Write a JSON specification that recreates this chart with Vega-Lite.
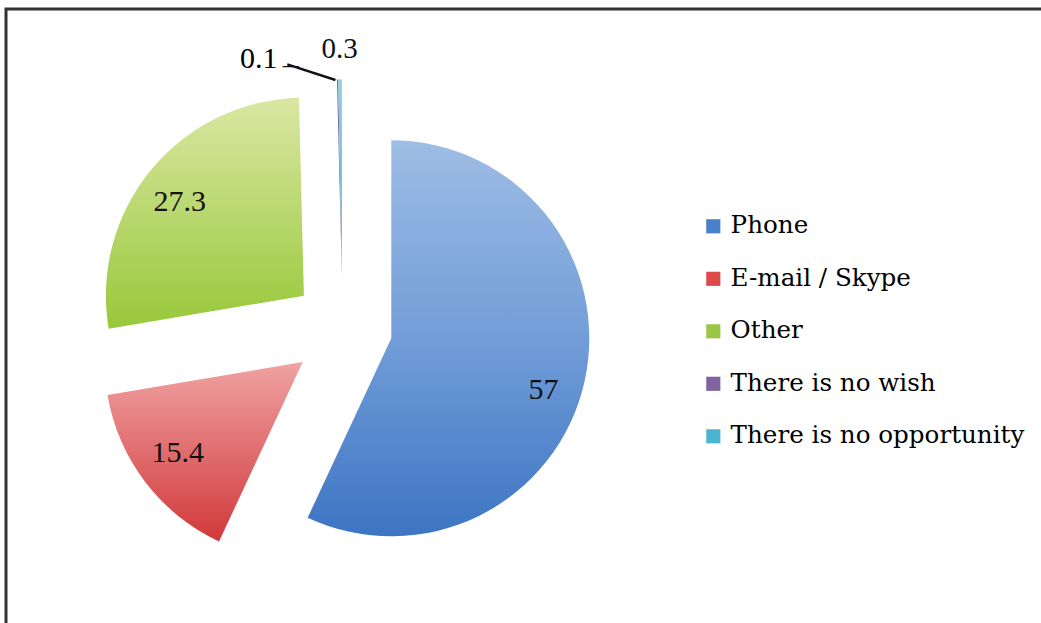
{
  "$schema": "https://vega.github.io/schema/vega-lite/v6.json",
  "autosize": "none",
  "width": 1045,
  "height": 620,
  "padding": {"left": 6, "top": 9, "right": -10, "bottom": -6},
  "background": "white",
  "config": {"view": {"stroke": "#333333", "strokeWidth": 3}},
  "data": {
    "values": [
      {"category": "Phone", "value": 57},
      {"category": "E-mail / Skype", "value": 15.4},
      {"category": "Other", "value": 27.3},
      {"category": "There is no wish", "value": 0.1},
      {"category": "There is no opportunity", "value": 0.3}
    ]
  },
  "transform": [{"window": [{"op": "row_number", "as": "idx"}]}],
  "layer": [
    {
      "mark": {"type": "point", "opacity": 0},
      "encoding": {
        "x": {"field": "value", "type": "quantitative", "axis": null},
        "y": {"field": "value", "type": "quantitative", "axis": null}
      }
    },
    {
      "layer": [
        {
          "mark": {"type": "arc", "radius": 0},
          "encoding": {
            "color": {
              "field": "category",
              "type": "nominal",
              "scale": {
                "domain": ["Phone", "E-mail / Skype", "Other", "There is no wish", "There is no opportunity"],
                "range": ["#4A7FC9", "#DC4A4D", "#9CC646", "#8064A2", "#4BB4CE"]
              },
              "legend": {
                "title": null,
                "orient": "none",
                "legendX": 695,
                "legendY": 205,
                "symbolType": "square",
                "symbolSize": 200,
                "symbolStrokeWidth": 0,
                "labelFont": "DejaVu Serif",
                "labelFontSize": 24.6,
                "labelColor": "#000000",
                "labelLimit": 400,
                "labelOffset": 5,
                "rowPadding": 27.5,
                "padding": 0,
                "offset": 0
              }
            }
          }
        },
        {
          "mark": {
            "type": "arc", "radius": 198, "xOffset": -137.2, "yOffset": 19.3,
            "fill": {"gradient": "linear", "x1": 0, "y1": 0, "x2": 0, "y2": 1,
              "stops": [{"offset": 0, "color": "#9EBDE5"}, {"offset": 0.5, "color": "#729DD8"}, {"offset": 1, "color": "#3D75C3"}]}
          },
          "encoding": {"opacity": {"condition": {"test": "datum.category === 'Phone'", "value": 1}, "value": 0}}
        },
        {
          "mark": {
            "type": "arc", "radius": 198, "xOffset": -225.8, "yOffset": 43,
            "fill": {"gradient": "linear", "x1": 0, "y1": 0, "x2": 0, "y2": 1,
              "stops": [{"offset": 0, "color": "#F0A2A2"}, {"offset": 1, "color": "#D1393B"}]}
          },
          "encoding": {"opacity": {"condition": {"test": "datum.category === 'E-mail / Skype'", "value": 1}, "value": 0}}
        },
        {
          "mark": {
            "type": "arc", "radius": 198, "xOffset": -224.6, "yOffset": -23.3,
            "fill": {"gradient": "linear", "x1": 0, "y1": 0, "x2": 0, "y2": 1,
              "stops": [{"offset": 0, "color": "#DAE7A3"}, {"offset": 1, "color": "#98C83A"}]}
          },
          "encoding": {"opacity": {"condition": {"test": "datum.category === 'Other'", "value": 1}, "value": 0}}
        },
        {
          "mark": {"type": "arc", "radius": 198, "xOffset": -186.6, "yOffset": -41.5, "fill": "#8064A2"},
          "encoding": {"opacity": {"condition": {"test": "datum.category === 'There is no wish'", "value": 1}, "value": 0}}
        },
        {
          "mark": {
            "type": "arc", "radius": 198, "xOffset": -186.6, "yOffset": -41.5,
            "fill": {"gradient": "linear", "x1": 0, "y1": 0, "x2": 0, "y2": 1,
              "stops": [{"offset": 0, "color": "#8FD2E4"}, {"offset": 1, "color": "#4BACC6"}]}
          },
          "encoding": {"opacity": {"condition": {"test": "datum.category === 'There is no opportunity'", "value": 1}, "value": 0}}
        },
        {
          "mark": {"type": "text", "radius": 161, "xOffset": -137.2, "yOffset": 19.3, "dx": -5, "dy": 17,
            "font": "Liberation Serif", "fontSize": 30, "color": "#111111", "align": "center", "baseline": "middle"},
          "encoding": {
            "text": {"field": "value", "type": "nominal"},
            "opacity": {"condition": {"test": "datum.category === 'Phone'", "value": 1}, "value": 0}
          }
        },
        {
          "mark": {"type": "text", "radius": 157, "xOffset": -225.8, "yOffset": 43, "dy": -4,
            "font": "Liberation Serif", "fontSize": 30, "color": "#111111", "align": "center", "baseline": "middle"},
          "encoding": {
            "text": {"field": "value", "type": "nominal"},
            "opacity": {"condition": {"test": "datum.category === 'E-mail / Skype'", "value": 1}, "value": 0}
          }
        },
        {
          "mark": {"type": "text", "radius": 157, "xOffset": -224.6, "yOffset": -23.3, "dx": -3, "dy": 6,
            "font": "Liberation Serif", "fontSize": 30, "color": "#111111", "align": "center", "baseline": "middle"},
          "encoding": {
            "text": {"field": "value", "type": "nominal"},
            "opacity": {"condition": {"test": "datum.category === 'Other'", "value": 1}, "value": 0}
          }
        },
        {
          "mark": {"type": "text", "radius": 229, "xOffset": -186.6, "yOffset": -41.5, "dx": -78, "dy": 10,
            "font": "Liberation Serif", "fontSize": 30, "color": "#000000", "align": "center", "baseline": "middle"},
          "encoding": {
            "text": {"field": "value", "type": "nominal"},
            "opacity": {"condition": {"test": "datum.category === 'There is no wish'", "value": 1}, "value": 0}
          }
        },
        {
          "mark": {"type": "text", "radius": 229, "xOffset": -186.6, "yOffset": -41.5,
            "font": "Liberation Serif", "fontSize": 29, "color": "#111111", "align": "center", "baseline": "middle"},
          "encoding": {
            "text": {"field": "value", "type": "nominal"},
            "opacity": {"condition": {"test": "datum.category === 'There is no opportunity'", "value": 1}, "value": 0}
          }
        },
        {
          "mark": {"type": "text", "radius": 229, "xOffset": -186.6, "yOffset": -41.5, "dx": -17, "dy": 27, "angle": 18,
            "font": "Liberation Serif", "fontSize": 50, "color": "#111111", "align": "center", "baseline": "middle"},
          "encoding": {
            "text": {"value": "\u2014"},
            "opacity": {"condition": {"test": "datum.category === 'There is no wish'", "value": 1}, "value": 0}
          }
        },
        {
          "mark": {"type": "text", "radius": 229, "xOffset": -186.6, "yOffset": -41.5, "dx": -46, "dy": 17.5,
            "font": "Liberation Serif", "fontSize": 16, "fontWeight": "bold", "color": "#111111", "align": "center", "baseline": "middle"},
          "encoding": {
            "text": {"value": "\u2014"},
            "opacity": {"condition": {"test": "datum.category === 'There is no wish'", "value": 1}, "value": 0}
          }
        }
      ],
      "encoding": {
        "theta": {"field": "value", "type": "quantitative", "stack": true},
        "order": {"field": "idx", "type": "quantitative"},
        "detail": {"field": "category", "type": "nominal"}
      }
    }
  ]
}
